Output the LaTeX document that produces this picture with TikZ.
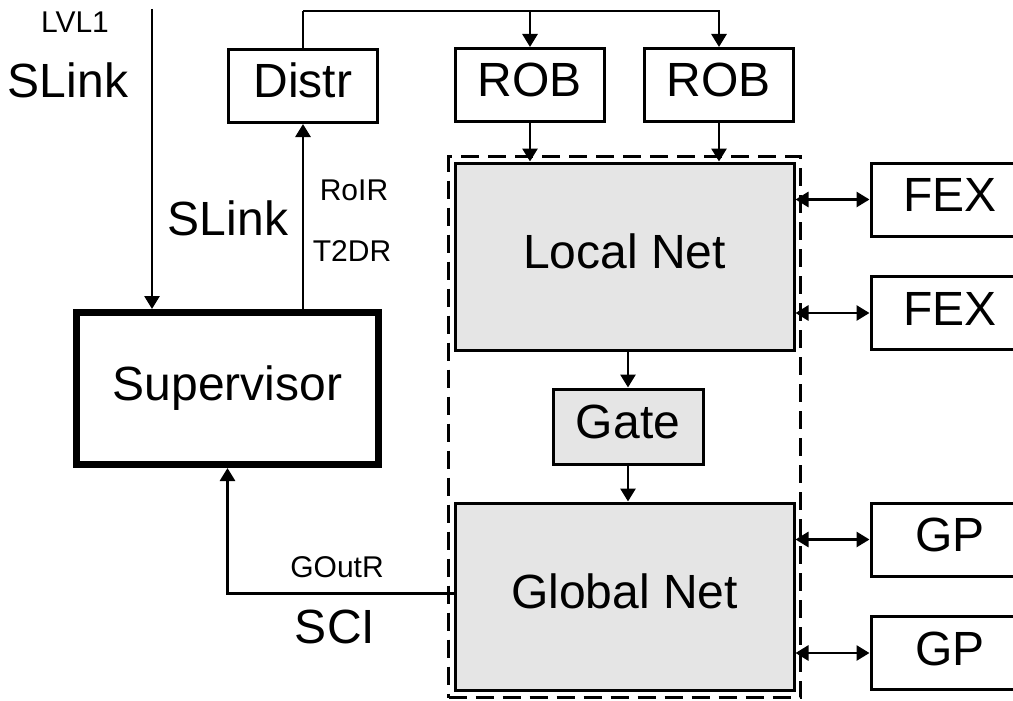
\documentclass[tikz,border=0pt]{standalone}
\usepackage{fontspec}
\setmainfont{Liberation Sans}
\usetikzlibrary{arrows.meta}
\begin{document}
\begin{tikzpicture}[x=1pt,y=-1pt,
  big/.style={font=\fontsize{48}{56}\selectfont},
  small/.style={font=\fontsize{30}{36}\selectfont},
  box/.style={draw, line width=3pt, inner sep=0pt, text height=34pt, text depth=10pt, big},
  wbox/.style={box, minimum width=149pt, minimum height=73pt},
  gbox/.style={box, fill=gray!20},
  side/.style={box, minimum width=158pt, minimum height=73pt},
  conn/.style={line width=2.8pt},
  arr/.style={conn, -{Triangle[length=13pt,width=15pt]}},
  darr/.style={conn, {Triangle[length=13pt,width=15pt]}-{Triangle[length=13pt,width=15pt]}},
  lbl/.style={small, anchor=base, inner sep=0pt},
  blbl/.style={big, anchor=base, inner sep=0pt}
]
\useasboundingbox (0,0) rectangle (1013,701);
\clip (0,0) rectangle (1013,701);

% dashed group
\node[draw, line width=3pt, dash pattern=on 18pt off 9pt, minimum width=352pt, minimum height=541pt, inner sep=0pt] (grp) at (624.5,427) {};

% boxes
\node[wbox] (distr) at (303,86) {Distr};
\node[wbox] (rob1) at (530,85) {ROB};
\node[wbox] (rob2) at (719,85) {ROB};
\node[gbox, minimum width=339pt, minimum height=187pt] (loc) at (624.5,256.5) {Local Net};
\node[gbox, minimum width=150pt, minimum height=75pt] (gate) at (628,426.5) {Gate};
\node[gbox, minimum width=339pt, minimum height=187pt] (glob) at (624.5,596.5) {Global Net};
\node[side] (fex1) at (950,199.5) {FEX};
\node[side] (fex2) at (950,313) {FEX};
\node[side] (gp1) at (950,539.5) {GP};
\node[side] (gp2) at (950,653) {GP};
\node[box, line width=7pt, minimum width=302pt, minimum height=152pt] (sup) at (227.5,388.5) {Supervisor};

% top distribution
\coordinate (tj) at (303,11);
\draw[conn] (distr.north) -- (tj);
\draw[arr] (tj) -| (rob2.north);
\draw[arr] (rob1.north |- tj) -- (rob1.north);

% ROB to Local Net
\draw[arr] (rob1.south) -- (rob1.south |- loc.north);
\draw[arr] (rob2.south) -- (rob2.south |- loc.north);

% Local -> Gate -> Global
\draw[arr] (gate.north |- loc.south) -- (gate.north);
\draw[arr] (gate.south) -- (gate.south |- glob.north);

% side links
\draw[darr] (loc.east |- fex1.west) -- (fex1.west);
\draw[darr] (loc.east |- fex2.west) -- (fex2.west);
\draw[darr] (glob.east |- gp1.west) -- (gp1.west);
\draw[darr] (glob.east |- gp2.west) -- (gp2.west);

% LVL1 input
\coordinate (lv) at (152,9);
\draw[arr] (lv) -- (lv |- sup.north);

% Supervisor to Distr
\draw[arr] (sup.north -| distr.south) -- (distr.south);

% Global Net to Supervisor
\draw[arr] ([yshift=3pt]glob.west) -| (sup.south);

% labels
\node[lbl] (lvl) at (75,33) {LVL1};
\node[blbl] (sl1) at (68,98) {SLink};
\node[blbl] (sl2) at (228,235) {SLink};
\node[lbl] (roir) at (354,200) {RoIR};
\node[lbl] (t2dr) at (352,261) {T2DR};
\node[lbl] (gout) at (337,577) {GOutR};
\node[blbl] (sci) at (335,643) {SCI};
\end{tikzpicture}
\end{document}
